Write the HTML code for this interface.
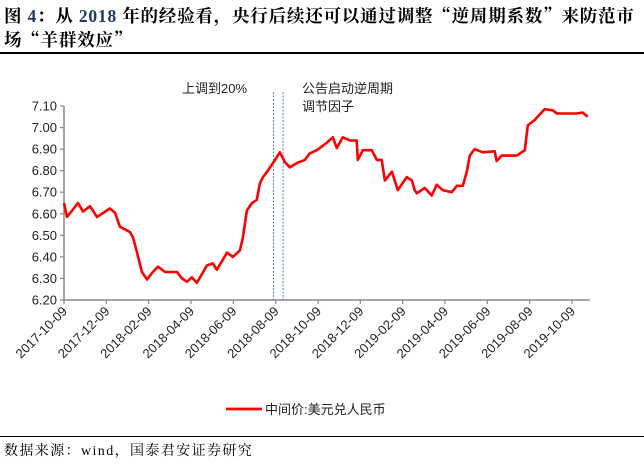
<!DOCTYPE html>
<html><head><meta charset="utf-8">
<style>
body{margin:0;background:#fff;width:644px;height:466px;overflow:hidden;position:relative;font-family:"Liberation Sans","Noto Sans CJK SC",sans-serif;}
.title{position:absolute;left:4px;top:4px;width:644px;white-space:nowrap;font-family:"Liberation Serif","Noto Serif CJK SC",serif;font-weight:bold;font-size:17.5px;line-height:24px;color:#000;letter-spacing:0.8px;}
.title .n{color:#1f3864;}
.title .q{font-family:"Noto Serif CJK SC",serif;}
.rule{position:absolute;left:0;width:644px;height:1.5px;background:#000;}
.foot{position:absolute;left:4px;top:440px;font-family:"Liberation Serif","Noto Serif CJK SC",serif;font-size:14px;letter-spacing:1.4px;color:#000;}
</style></head><body>
<div class="title">图 <span class="n">4</span>：从 <span class="n">2018</span> 年的经验看，央行后续还可以通过调整<span class="q">“</span>逆周期系数<span class="q">”</span>来防范市<br>场<span class="q">“</span>羊群效应<span class="q">”</span></div>
<div class="rule" style="top:52px"></div>
<svg id="chart" width="644" height="466" style="position:absolute;left:0;top:0"></svg>
<div class="rule" style="top:436px;height:1.2px"></div>
<div class="foot">数据来源：wind，国泰君安证券研究</div>
<script>
const yTicks=[6.20,6.30,6.40,6.50,6.60,6.70,6.80,6.90,7.00,7.10];
const xTickLabels=["2017-10-09","2017-12-09","2018-02-09","2018-04-09","2018-06-09","2018-08-09","2018-10-09","2018-12-09","2019-02-09","2019-04-09","2019-06-09","2019-08-09","2019-10-09"];
// months since 2017-10-09
const monthsT=[0,0.14,0.66,0.9,1.23,1.56,2.17,2.41,2.64,3.12,3.26,3.45,3.68,3.92,4.2,4.44,4.77,5.34,5.57,5.81,6.04,6.28,6.75,7.03,7.22,7.7,7.98,8.31,8.45,8.64,8.88,9.11,9.25,9.4,9.63,9.87,10.2,10.43,10.67,11.0,11.38,11.61,11.95,12.42,12.7,12.89,13.17,13.5,13.83,13.88,14.12,14.54,14.78,15.01,15.16,15.49,15.77,16.19,16.43,16.57,16.67,17.04,17.37,17.61,17.89,18.32,18.56,18.84,19.03,19.17,19.4,19.78,20.35,20.44,20.68,21.06,21.39,21.77,21.91,22.24,22.47,22.71,23.09,23.28,24.22,24.5,24.74];
const rateValues=[6.65,6.585,6.65,6.61,6.635,6.585,6.625,6.605,6.54,6.515,6.49,6.42,6.33,6.295,6.33,6.355,6.33,6.33,6.30,6.285,6.305,6.28,6.36,6.37,6.34,6.42,6.40,6.43,6.49,6.615,6.65,6.665,6.74,6.77,6.80,6.835,6.885,6.84,6.815,6.835,6.85,6.88,6.895,6.93,6.955,6.905,6.955,6.94,6.94,6.85,6.895,6.895,6.85,6.85,6.755,6.795,6.71,6.77,6.755,6.71,6.695,6.72,6.685,6.735,6.71,6.70,6.73,6.73,6.795,6.87,6.90,6.885,6.89,6.845,6.87,6.87,6.87,6.895,7.01,7.035,7.06,7.085,7.08,7.065,7.065,7.07,7.05];
const eventMonths=[9.9,10.35];
const NS="http://www.w3.org/2000/svg";
const svg=document.getElementById('chart');
const X0=64,X1=590,Y0=300,Y1=106;
const monthW=(572-64)/24;
function xs(m){return X0+m*monthW;}
function ys(v){return Y0-(v-6.20)/(7.10-6.20)*(Y0-Y1);}
function mk(tag,attrs){const e=document.createElementNS(NS,tag);for(const k in attrs)e.setAttribute(k,attrs[k]);svg.appendChild(e);return e;}
let ya=mk('line',{x1:X0,y1:Y1,x2:X0,y2:Y0,stroke:'#888','stroke-width':1.5});


yTicks.forEach(v=>{
 const t=mk('line',{x1:X0-4,y1:ys(v),x2:X0,y2:ys(v),stroke:'#888','stroke-width':1.2});
 
 
 const l=mk('text',{x:X0-7,y:ys(v)+4.5,'text-anchor':'end','font-size':13,fill:'#222','font-family':'Liberation Sans, sans-serif'});
 l.textContent=v.toFixed(2);
 
 
});
let xa=mk('line',{x1:X0,y1:Y0,x2:X1,y2:Y0,stroke:'#888','stroke-width':1.5});


xTickLabels.forEach((s,i)=>{
 const x=xs(i*2);
 const t=mk('line',{x1:x,y1:Y0,x2:x,y2:Y0+4,stroke:'#888','stroke-width':1.2});
 
 
 const l=mk('text',{x:0,y:0,'text-anchor':'end','font-size':13,fill:'#222','font-family':'Liberation Sans, sans-serif',transform:`translate(${x+4},${Y0+12}) rotate(-45)`});
 l.textContent=s;
 
 
});
eventMonths.forEach(m=>{
 const d=mk('line',{x1:xs(m),y1:92,x2:xs(m),y2:Y0,stroke:'#4472c4','stroke-width':0.9,'stroke-dasharray':'2,1.5'});
 
 
});
function txt(x,y,s,name){const t=mk('text',{x:x,y:y,'font-size':13,fill:'#222','font-family':'Liberation Sans, Noto Sans CJK SC, sans-serif'});t.textContent=s;}
txt(182,93,'上调到20%','annotation-raise-20');
txt(302,93,'公告启动逆周期','annotation-countercyclical-1');
txt(302,111,'调节因子','annotation-countercyclical-2');
const pts=monthsT.map((m,i)=>xs(m).toFixed(1)+','+ys(rateValues[i]).toFixed(1)).join(' ');
const pl=mk('polyline',{points:pts,fill:'none',stroke:'#ff0000','stroke-width':2.6,'stroke-linejoin':'round'});


const lg=mk('line',{x1:226,y1:409,x2:262,y2:409,stroke:'#ff0000','stroke-width':2.8});


txt(265,414,'中间价:美元兑人民币','legend-label');
</script>
</body></html>
